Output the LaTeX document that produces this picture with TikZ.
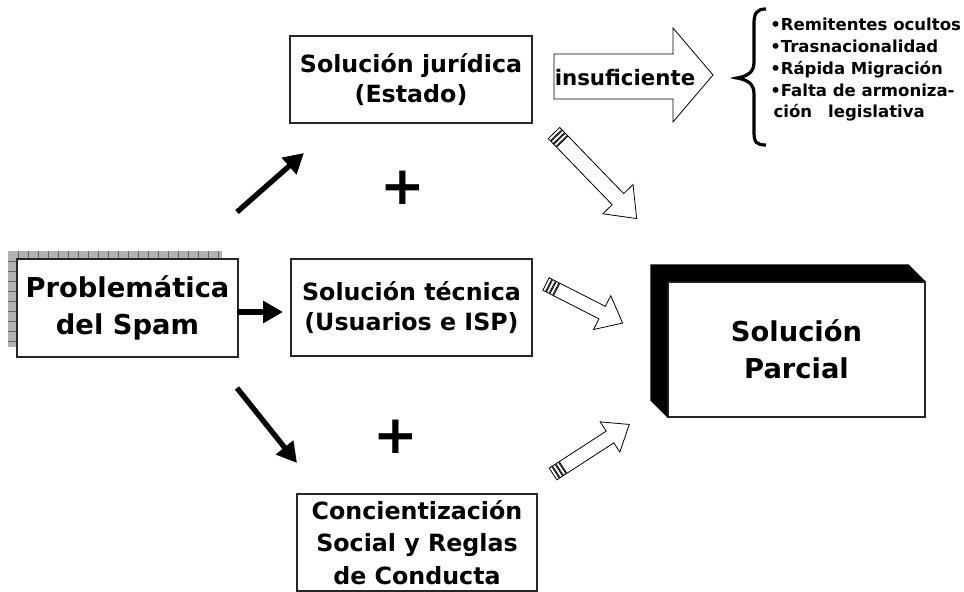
\documentclass[tikz,border=0pt]{standalone}
\usepackage{fontspec}
\setmainfont{DejaVu Sans}
\usetikzlibrary{arrows.meta,calc}

\newcommand{\boxfont}{\bfseries\fontsize{17.8}{22.5}\selectfont}
\newcommand{\bigfont}{\bfseries\fontsize{20.5}{27.75}\selectfont}
\newcommand{\listfont}{\bfseries\fontsize{12.4}{16.3}\selectfont}

% hollow arrow with stripes at the tail: tail, angle, length, shaft half, head half, head length
\newcommand{\hollowarrow}[6]{%
  \begin{scope}[shift={#1}, rotate=#2, line width=0.6pt]
    \foreach \b in {0,4,8} \draw (\b,-#4) rectangle ++(3,2*#4);
    \draw (12,-#4) -- ({#3-#6},-#4) -- ({#3-#6},-#5) -- (#3,0) -- ({#3-#6},#5) -- ({#3-#6},#4) -- (12,#4) -- cycle;
  \end{scope}}

\tikzset{
  box/.style={draw=black!85, line width=0.8pt, fill=white, align=center, inner sep=0pt, font=\boxfont},
  push/.style={line width=4pt, -{Triangle[length=15pt,width=16pt]}},
  plus/.style={font=\bfseries\fontsize{40}{40}\selectfont, inner sep=0pt}
}

\begin{document}
\begin{tikzpicture}[x=0.75pt,y=-0.75pt]
\useasboundingbox (0,0) rectangle (964,592);

% patterned shadow of the left box
\fill[gray!60] (8,251) rectangle (222,347);
\foreach \i in {18,28,...,218} \draw[black!60, line width=0.4pt] (\i,251) -- (\i,259);
\foreach \j in {261,271,...,341} \draw[black!60, line width=0.4pt] (8,\j) -- (17,\j);
\node[box, font=\bigfont, minimum width=165.75pt, minimum height=73.5pt] (spam) at (127.5,308) {Problemática\\del Spam};

% the three ways
\node[box, minimum width=181.5pt, minimum height=65.25pt] (jur) at (411,79.5) {Solución jurídica\\(Estado)};
\node[box, minimum width=180.75pt, minimum height=72.75pt] (tec) at (411.5,307.5) {Solución técnica\\(Usuarios e ISP)};
\node[box, font=\bfseries\fontsize{17.8}{24.4}\selectfont, minimum width=180pt, minimum height=72.75pt] (conc) at (417,542.5) {Concientización\\Social y Reglas\\de Conducta};

\node[plus] (plusa) at (403,188) {+};
\node[plus] (plusb) at (396,437) {+};

\coordinate (upS) at (237,212);   \coordinate (upE) at (304,153);
\coordinate (midS) at (237,312);  \coordinate (midE) at (283,312);
\coordinate (dnS) at (237,388);   \coordinate (dnE) at (297,463);
\draw[push] (upS) -- (upE);
\draw[push] (midS) -- (midE);
\draw[push] (dnS) -- (dnE);

% insuficiente
\node[font=\bfseries\fontsize{16}{16}\selectfont] (insuf) at (625,78) {insuficiente};
\draw[line width=0.6pt] (554,54) -- (673,54) -- (673,28) -- (713,75) -- (673,122) -- (673,99) -- (554,99) -- cycle;

% brace and reasons
\draw[line width=2.4pt] (766,9) .. controls (756,9) and (754,14) .. (754,24) -- (754,62)
  .. controls (754,72) and (748,76) .. (737,78) .. controls (748,80) and (754,84) .. (754,94)
  -- (754,132) .. controls (754,142) and (756,145) .. (766,145);
\node[font=\listfont, align=left, anchor=north west, inner sep=0pt] (why) at (770,18)
  {•Remitentes ocultos\\•Trasnacionalidad\\•Rápida Migración\\•Falta de armoniza-\\\hspace*{2.5pt}ción\hspace*{12pt}legislativa};

% partial solution
\node[box, font=\bigfont, minimum width=192.75pt, minimum height=101.25pt] (par) at (796.5,349.5) {Solución\\Parcial};
\fill ($(par.north west)+(-17,-17)$) -- ($(par.north east)+(-17,-17)$) -- (par.north east)
  -- (par.north west) -- (par.south west) -- ($(par.south west)+(-17,-17)$) -- cycle;

\hollowarrow{(554,133)}{-46}{119}{8}{21}{27}
\hollowarrow{(546,284)}{-27}{86}{7}{19}{23}
\hollowarrow{(553,474)}{33}{91}{7}{18}{23}
\end{tikzpicture}
\end{document}
